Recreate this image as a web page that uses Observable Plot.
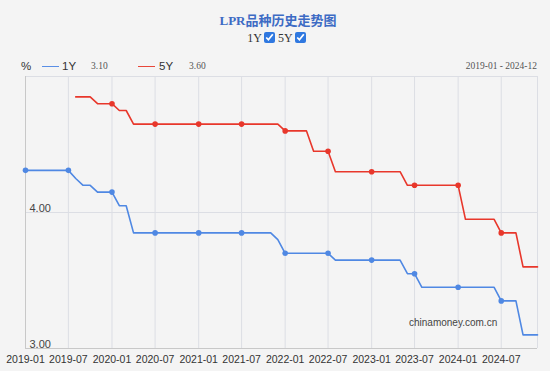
<!DOCTYPE html>
<html><head><meta charset="utf-8">
<script src="https://cdn.jsdelivr.net/npm/d3@7"></script>
<script src="https://cdn.jsdelivr.net/npm/@observablehq/plot@0.6"></script>
<style>
html,body{margin:0;padding:0;background:#f4f4f4;width:550px;height:371px;overflow:hidden;}
#wrap{position:relative;width:550px;height:371px;}
.abs{position:absolute;white-space:nowrap;}
#title{left:0;width:556px;top:13px;text-align:center;font:bold 13px/16px "Liberation Serif","Noto Sans CJK SC",serif;color:#3d6bc4;}
#checks{left:0;width:556px;top:31px;text-align:center;font:12px/14px "Liberation Serif",serif;color:#333;}
#checks input{width:11px;height:11px;margin:0 3px 0 2px;vertical-align:-1px;accent-color:#2f78e0;}
.sans{font:11.5px/14px "Liberation Sans",Arial,sans-serif;color:#333;}
.serif{font:9.5px/14px "Liberation Serif",serif;color:#555;}
.sw{position:absolute;height:0;border-top:1.5px solid;}
#chart{position:absolute;left:0;top:70px;}
#wm{left:409px;top:316px;font:10px/14px "Liberation Sans",Arial,sans-serif;color:#444;}
</style></head>
<body><div id="wrap">
<div id="title" class="abs">LPR品种历史走势图</div>
<div id="checks" class="abs">1Y<input type="checkbox" checked>5Y<input type="checkbox" checked></div>
<div class="abs sans" style="left:21px;top:59px;">%</div>
<div class="sw" style="left:42px;top:66px;width:17px;border-color:#5a8fe6;"></div>
<div class="abs sans" style="left:62px;top:59px;">1Y</div>
<div class="abs serif" id="v1" style="left:91px;top:59px;"></div>
<div class="sw" style="left:138px;top:66px;width:17px;border-color:#e8473a;"></div>
<div class="abs sans" style="left:159px;top:59px;">5Y</div>
<div class="abs serif" id="v5" style="left:189px;top:59px;"></div>
<div class="abs serif" id="range" style="right:13px;top:59px;"></div>
<div id="chart"></div>
<div id="wm" class="abs">chinamoney.com.cn</div>
</div>
<script>
// monthly LPR values, 2019-01 .. 2024-12
const startMonth = "2019-01";
const endMonth = "2024-12";
const lpr1y = [
  4.31,4.31,4.31,4.31,4.31,4.31,4.31,4.25,4.20,4.20,4.15,4.15,
  4.15,4.05,4.05,3.85,3.85,3.85,3.85,3.85,3.85,3.85,3.85,3.85,
  3.85,3.85,3.85,3.85,3.85,3.85,3.85,3.85,3.85,3.85,3.85,3.80,
  3.70,3.70,3.70,3.70,3.70,3.70,3.70,3.65,3.65,3.65,3.65,3.65,
  3.65,3.65,3.65,3.65,3.65,3.55,3.55,3.45,3.45,3.45,3.45,3.45,
  3.45,3.45,3.45,3.45,3.45,3.45,3.35,3.35,3.35,3.10,3.10,3.10
];
const lpr5y = [
  null,null,null,null,null,null,null,4.85,4.85,4.85,4.80,4.80,
  4.80,4.75,4.75,4.65,4.65,4.65,4.65,4.65,4.65,4.65,4.65,4.65,
  4.65,4.65,4.65,4.65,4.65,4.65,4.65,4.65,4.65,4.65,4.65,4.65,
  4.60,4.60,4.60,4.60,4.45,4.45,4.45,4.30,4.30,4.30,4.30,4.30,
  4.30,4.30,4.30,4.30,4.30,4.20,4.20,4.20,4.20,4.20,4.20,4.20,
  4.20,3.95,3.95,3.95,3.95,3.95,3.85,3.85,3.85,3.60,3.60,3.60
];
const xTickLabels = ["2019-01","2019-07","2020-01","2020-07","2021-01","2021-07","2022-01","2022-07","2023-01","2023-07","2024-01","2024-07"];
const yTickLabels = ["4.00","3.00"];
const latest1y = "3.10";
const latest5y = "3.60";

const blue = "#4f88e3", red = "#e8372b";
const parse = d3.utcParse("%Y-%m");
const fmt = d3.utcFormat("%Y-%m");
const d0 = parse(startMonth), d1 = parse(endMonth);
const dates = d3.utcMonth.range(d0, d3.utcMonth.offset(d1, 1));
const data = dates.map((d, i) => ({date: d, y1: lpr1y[i], y5: lpr5y[i]}));
const tickDates = xTickLabels.map(parse);
const tickSet = new Set(xTickLabels);
const dots1 = data.filter(d => tickSet.has(fmt(d.date)) && d.y1 != null);
const dots5 = data.filter(d => tickSet.has(fmt(d.date)) && d.y5 != null);

document.getElementById("v1").textContent = latest1y;
document.getElementById("v5").textContent = latest5y;
document.getElementById("range").textContent = startMonth + " - " + endMonth;

const chart = Plot.plot({
  width: 550, height: 301,
  marginTop: 6, marginLeft: 25, marginRight: 13, marginBottom: 23,
  style: {background: "transparent", fontFamily: "Liberation Sans, Arial, sans-serif", fontSize: "10.5px", color: "#333"},
  x: {type: "utc", domain: [d0, d1], axis: null},
  y: {domain: [3, 5], axis: null},
  marks: [
    Plot.ruleX(tickDates.slice(1), {stroke: "#dcdee4", strokeWidth: 1}),
    Plot.ruleX([d1], {stroke: "#dcdee4"}),
    Plot.ruleY([4, 5], {stroke: "#dcdee4"}),
    Plot.ruleY([3], {stroke: "#c8c8c8"}),
    Plot.ruleX([d0], {stroke: "#c8c8c8"}),
    Plot.axisX({ticks: tickDates, tickFormat: fmt, tickSize: 0, tickPadding: 7, fill: "#333"}),
    Plot.text(yTickLabels, {x: () => d0, y: d => +d, text: d => d, textAnchor: "start", lineAnchor: "bottom", dx: 4, dy: -1, fill: "#444", fontSize: 11}),
    Plot.line(data, {x: "date", y: "y1", stroke: blue, strokeWidth: 1.6}),
    Plot.line(data.filter(d => d.y5 != null), {x: "date", y: "y5", stroke: red, strokeWidth: 1.6}),
    Plot.dot(dots1, {x: "date", y: "y1", r: 2.8, fill: blue}),
    Plot.dot(dots5, {x: "date", y: "y5", r: 2.8, fill: red})
  ]
});
document.getElementById("chart").appendChild(chart);
</script>
</body></html>
